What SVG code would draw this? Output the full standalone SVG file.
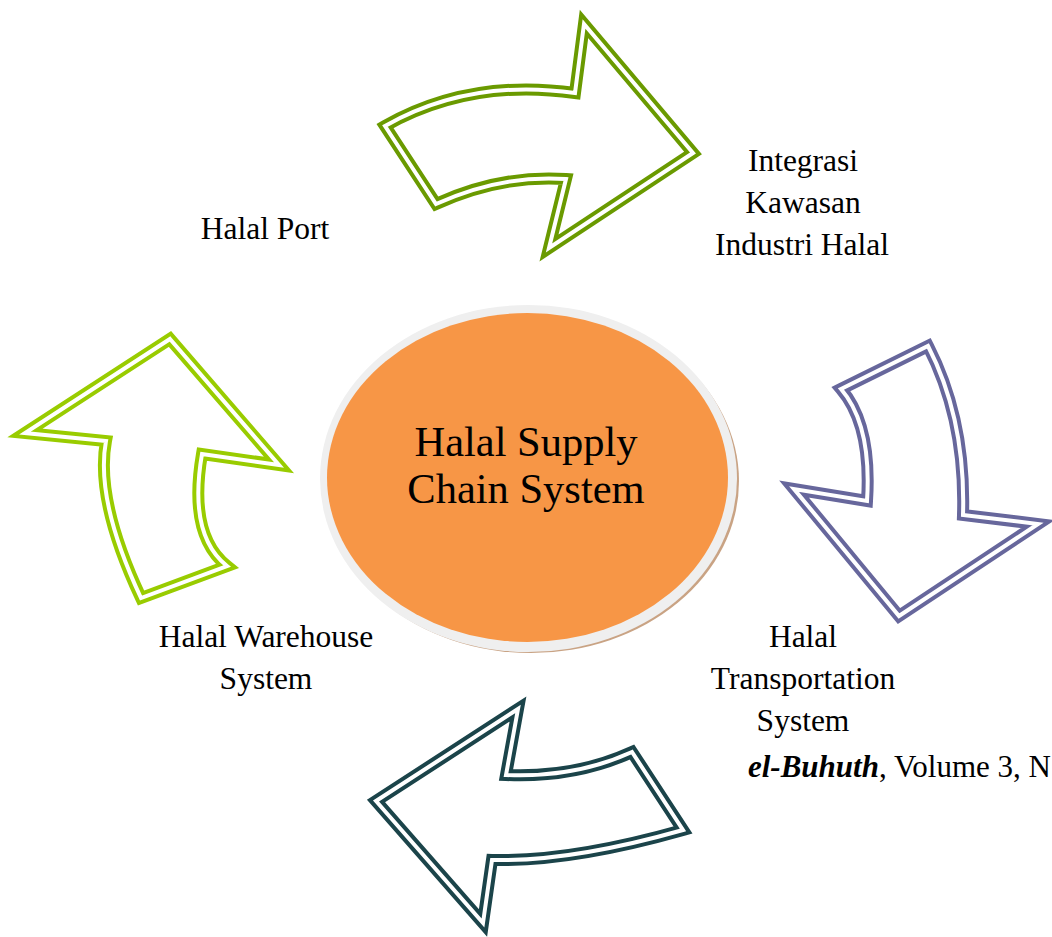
<svg xmlns="http://www.w3.org/2000/svg" xmlns:xlink="http://www.w3.org/1999/xlink" width="1052" height="937" viewBox="0 0 1052 937">
  <style>
    .lbl { font-family: "Liberation Serif", "Times New Roman", serif; font-size: 31.5px; fill: #000; text-anchor: middle; }
    .title { font-family: "Liberation Serif", "Times New Roman", serif; font-size: 42.5px; fill: #000; text-anchor: middle; }
    .foot { font-family: "Liberation Serif", "Times New Roman", serif; font-size: 31px; fill: #000; }
    .band { fill: #fff; stroke-width: 12; stroke-linejoin: miter; stroke-miterlimit: 20; }
    .gap { fill: none; stroke: #fff; stroke-width: 4; stroke-linejoin: miter; stroke-miterlimit: 20; }
  </style>
  <defs>
    <!-- centre lines of the double-outlined curved arrows -->
    <path id="shape-top" d="M385,126 Q470,78 575,93 L584,24 L693,153 L549,248 L566,179 Q501,174.5 436,204 Z"/>
    <path id="shape-right" d="M841,389 L928,346 Q966,420 963,515 L1038,524 L899,616 L794,489 L867,501 Q872,425 841,389 Z"/>
    <path id="shape-bottom" d="M518,709 L506,775 Q575,778 632,752 L683,830 Q570,862 492,860 L483,923 L376,801 Z"/>
    <path id="shape-left" d="M170,339 L279,465 L202,454 Q188,535 227,566 L141,598 Q95,500 106,441 L25,433 Z"/>
  </defs>

  <rect width="1052" height="937" fill="#fff"/>

  <!-- centre hub -->
  <g id="hub">
    <ellipse cx="531" cy="481" rx="208" ry="172" fill="#c9a384"/>
    <ellipse cx="528.5" cy="478.5" rx="208.5" ry="173.5" fill="#efefef"/>
    <ellipse cx="527.5" cy="477.5" rx="200.5" ry="164.5" fill="#f79646"/>
    <text class="title" x="526" y="456">Halal Supply</text>
    <text class="title" x="526" y="503">Chain System</text>
  </g>

  <!-- cycle arrows -->
  <g id="connectors">
    <g id="arrow-top">
      <use xlink:href="#shape-top" class="band" stroke="#6a9a00"/>
      <use xlink:href="#shape-top" class="gap"/>
    </g>
    <g id="arrow-right">
      <use xlink:href="#shape-right" class="band" stroke="#67679c"/>
      <use xlink:href="#shape-right" class="gap"/>
    </g>
    <g id="arrow-bottom">
      <use xlink:href="#shape-bottom" class="band" stroke="#1b444a"/>
      <use xlink:href="#shape-bottom" class="gap"/>
    </g>
    <g id="arrow-left">
      <use xlink:href="#shape-left" class="band" stroke="#99cc00"/>
      <use xlink:href="#shape-left" class="gap"/>
    </g>
  </g>

  <g id="halal-port">
    <text class="lbl" x="265" y="239">Halal Port</text>
  </g>
  <g id="kawasan-industri">
    <text class="lbl" x="803" y="171">Integrasi</text>
    <text class="lbl" x="803" y="213">Kawasan</text>
    <text class="lbl" x="802" y="255">Industri Halal</text>
  </g>
  <g id="transportation">
    <text class="lbl" x="803" y="647">Halal</text>
    <text class="lbl" x="803" y="689">Transportation</text>
    <text class="lbl" x="803" y="731">System</text>
  </g>
  <g id="warehouse">
    <text class="lbl" x="266" y="647">Halal Warehouse</text>
    <text class="lbl" x="266" y="689">System</text>
  </g>

  <text class="foot" x="748" y="777"><tspan font-weight="bold" font-style="italic">el-Buhuth</tspan>, Volume 3, N</text>
</svg>
